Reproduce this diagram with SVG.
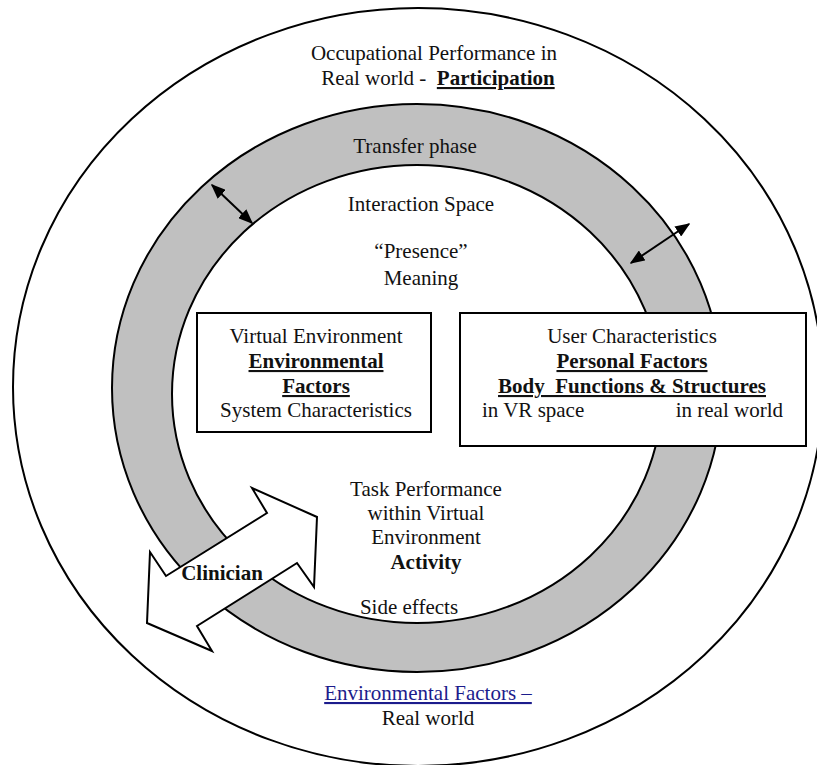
<svg xmlns="http://www.w3.org/2000/svg" width="817" height="765" viewBox="0 0 817 765">
<style>
text{font-family:"Liberation Serif","Times New Roman",serif;font-size:21px;fill:#111;}
.c{text-anchor:middle;}
.b{font-weight:bold;}
.u{text-decoration:underline;}
.ln{fill:none;stroke:#000;stroke-width:2;}
.box{fill:#fff;stroke:#000;stroke-width:2;}
.dbl{stroke:#000;stroke-width:2;fill:none;marker-start:url(#ah);marker-end:url(#ah);}
</style>
<defs>
<marker id="ah" viewBox="0 0 10 10" refX="9" refY="5" markerWidth="15" markerHeight="12" orient="auto-start-reverse" markerUnits="userSpaceOnUse" preserveAspectRatio="none">
<path d="M0,0 L10,5 L0,10 z" fill="#000"/>
</marker>
</defs>
<rect width="817" height="765" fill="#fff"/>
<g id="outer">
<ellipse cx="418" cy="387" rx="405" ry="379" class="ln"/>
</g>
<g id="ring">
<ellipse cx="417" cy="388" rx="305" ry="284" fill="#c0c0c0" stroke="#000" stroke-width="2"/>
<ellipse cx="417" cy="394" rx="245" ry="229" fill="#fff" stroke="#000" stroke-width="2"/>
</g>
<g id="labels">
<text class="c" x="434" y="60">Occupational Performance in</text>
<text class="c" x="438" y="85" xml:space="preserve">Real world -  <tspan class="b u">Participation</tspan></text>
<text class="c" x="415" y="153">Transfer phase</text>
<text class="c" x="421" y="211">Interaction Space</text>
<text class="c" x="421" y="258">“Presence”</text>
<text class="c" x="421" y="285">Meaning</text>
<text class="c" x="426" y="496">Task Performance</text>
<text class="c" x="426" y="520">within Virtual</text>
<text class="c" x="426" y="544">Environment</text>
<text class="c b" x="426" y="569">Activity</text>
<text class="c" x="409" y="614">Side effects</text>
<text class="c u" x="428" y="700" style="fill:#1c1c8c">Environmental Factors –</text>
<text class="c" x="428" y="725">Real world</text>
</g>
<g id="virtual-environment">
<rect x="197" y="313" width="234" height="119" class="box"/>
<text class="c" x="316" y="343">Virtual Environment</text>
<text class="c b u" x="316" y="368">Environmental</text>
<text class="c b u" x="316" y="393">Factors</text>
<text class="c" x="316" y="417">System Characteristics</text>
</g>
<g id="user-characteristics">
<rect x="460" y="313" width="346" height="133" class="box"/>
<text class="c" x="632" y="343">User Characteristics</text>
<text class="c b u" x="632" y="368">Personal Factors</text>
<text class="c b u" x="632" y="393" xml:space="preserve">Body  Functions &amp; Structures</text>
<text x="482" y="417">in VR space</text>
<text x="783" y="417" style="text-anchor:end">in real world</text>
</g>
<g id="connectors">
<line x1="212" y1="185" x2="252" y2="223" class="dbl"/>
<line x1="689" y1="224" x2="631" y2="263" class="dbl"/>
</g>
<g id="clinician">
<polygon points="252,488 317,517 314,587 297,563 197,626 212,651 147,623 150,552 166,576 267,513" fill="#fff" stroke="#000" stroke-width="2" stroke-linejoin="miter"/>
<text class="c b" x="222" y="580">Clinician</text>
</g>
</svg>
